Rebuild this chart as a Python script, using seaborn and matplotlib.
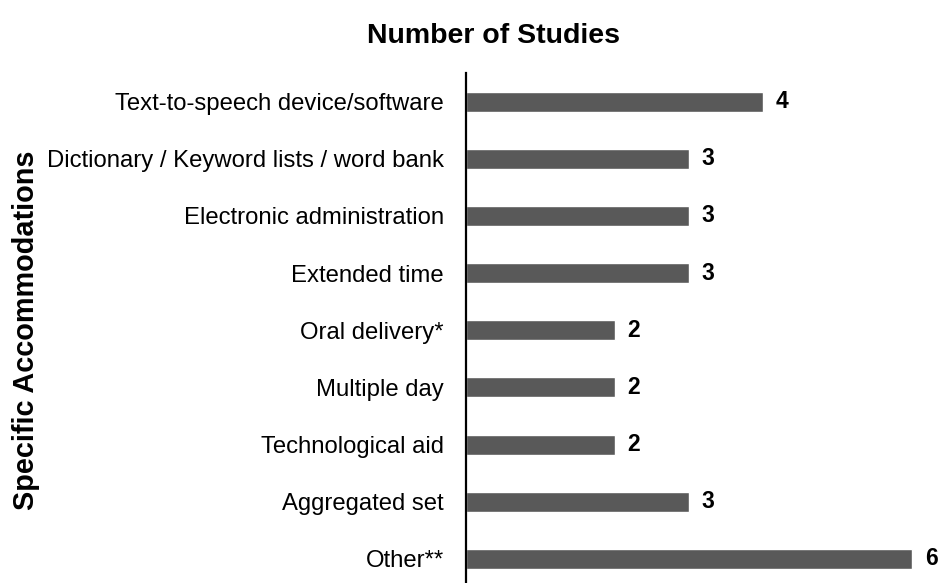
import matplotlib
matplotlib.use("Agg")
import matplotlib.pyplot as plt
import seaborn as sns
import pandas as pd

accommodations = [
    "Text-to-speech device/software",
    "Dictionary / Keyword lists / word bank",
    "Electronic administration",
    "Extended time",
    "Oral delivery*",
    "Multiple day",
    "Technological aid",
    "Aggregated set",
    "Other**",
]
study_counts = [4, 3, 3, 3, 2, 2, 2, 3, 6]

df = pd.DataFrame({"Accommodation": accommodations, "Studies": study_counts})

sns.set_theme(style="white")
plt.rcParams["font.family"] = ["Liberation Sans", "DejaVu Sans"]

fig = plt.figure(figsize=(9.41, 5.83), dpi=100)
ax = fig.add_axes([466 / 941, -0.0077, 0.49, 0.8825])

sns.barplot(data=df, x="Studies", y="Accommodation", orient="h",
            color="#595959", width=0.35, saturation=1, ax=ax)

ax.set_xlim(0, 6.2)
ax.set_ylim(8.5, -0.5)

for s in ["top", "right", "bottom"]:
    ax.spines[s].set_visible(False)
ax.spines["left"].set_color("black")
ax.spines["left"].set_linewidth(1.6)

ax.set_xticks([])
ax.set_xlabel("")
ax.tick_params(axis="y", length=0, pad=16, labelsize=17.2, colors="black")

ax.bar_label(ax.containers[0], labels=[str(v) for v in study_counts],
             padding=9, fontsize=16.5, fontweight="bold", color="black")

ax.set_ylabel("Specific Accommodations", fontsize=20.8, fontweight="bold",
              color="black")
ax.yaxis.set_label_coords((40 - 466) / 461, 0.5)

fig.text(493.5 / 941, 1 - 43 / 583, "Number of Studies", ha="center",
         va="baseline", fontsize=20.5, fontweight="bold", color="black")

fig.savefig("out.png", dpi=100)
